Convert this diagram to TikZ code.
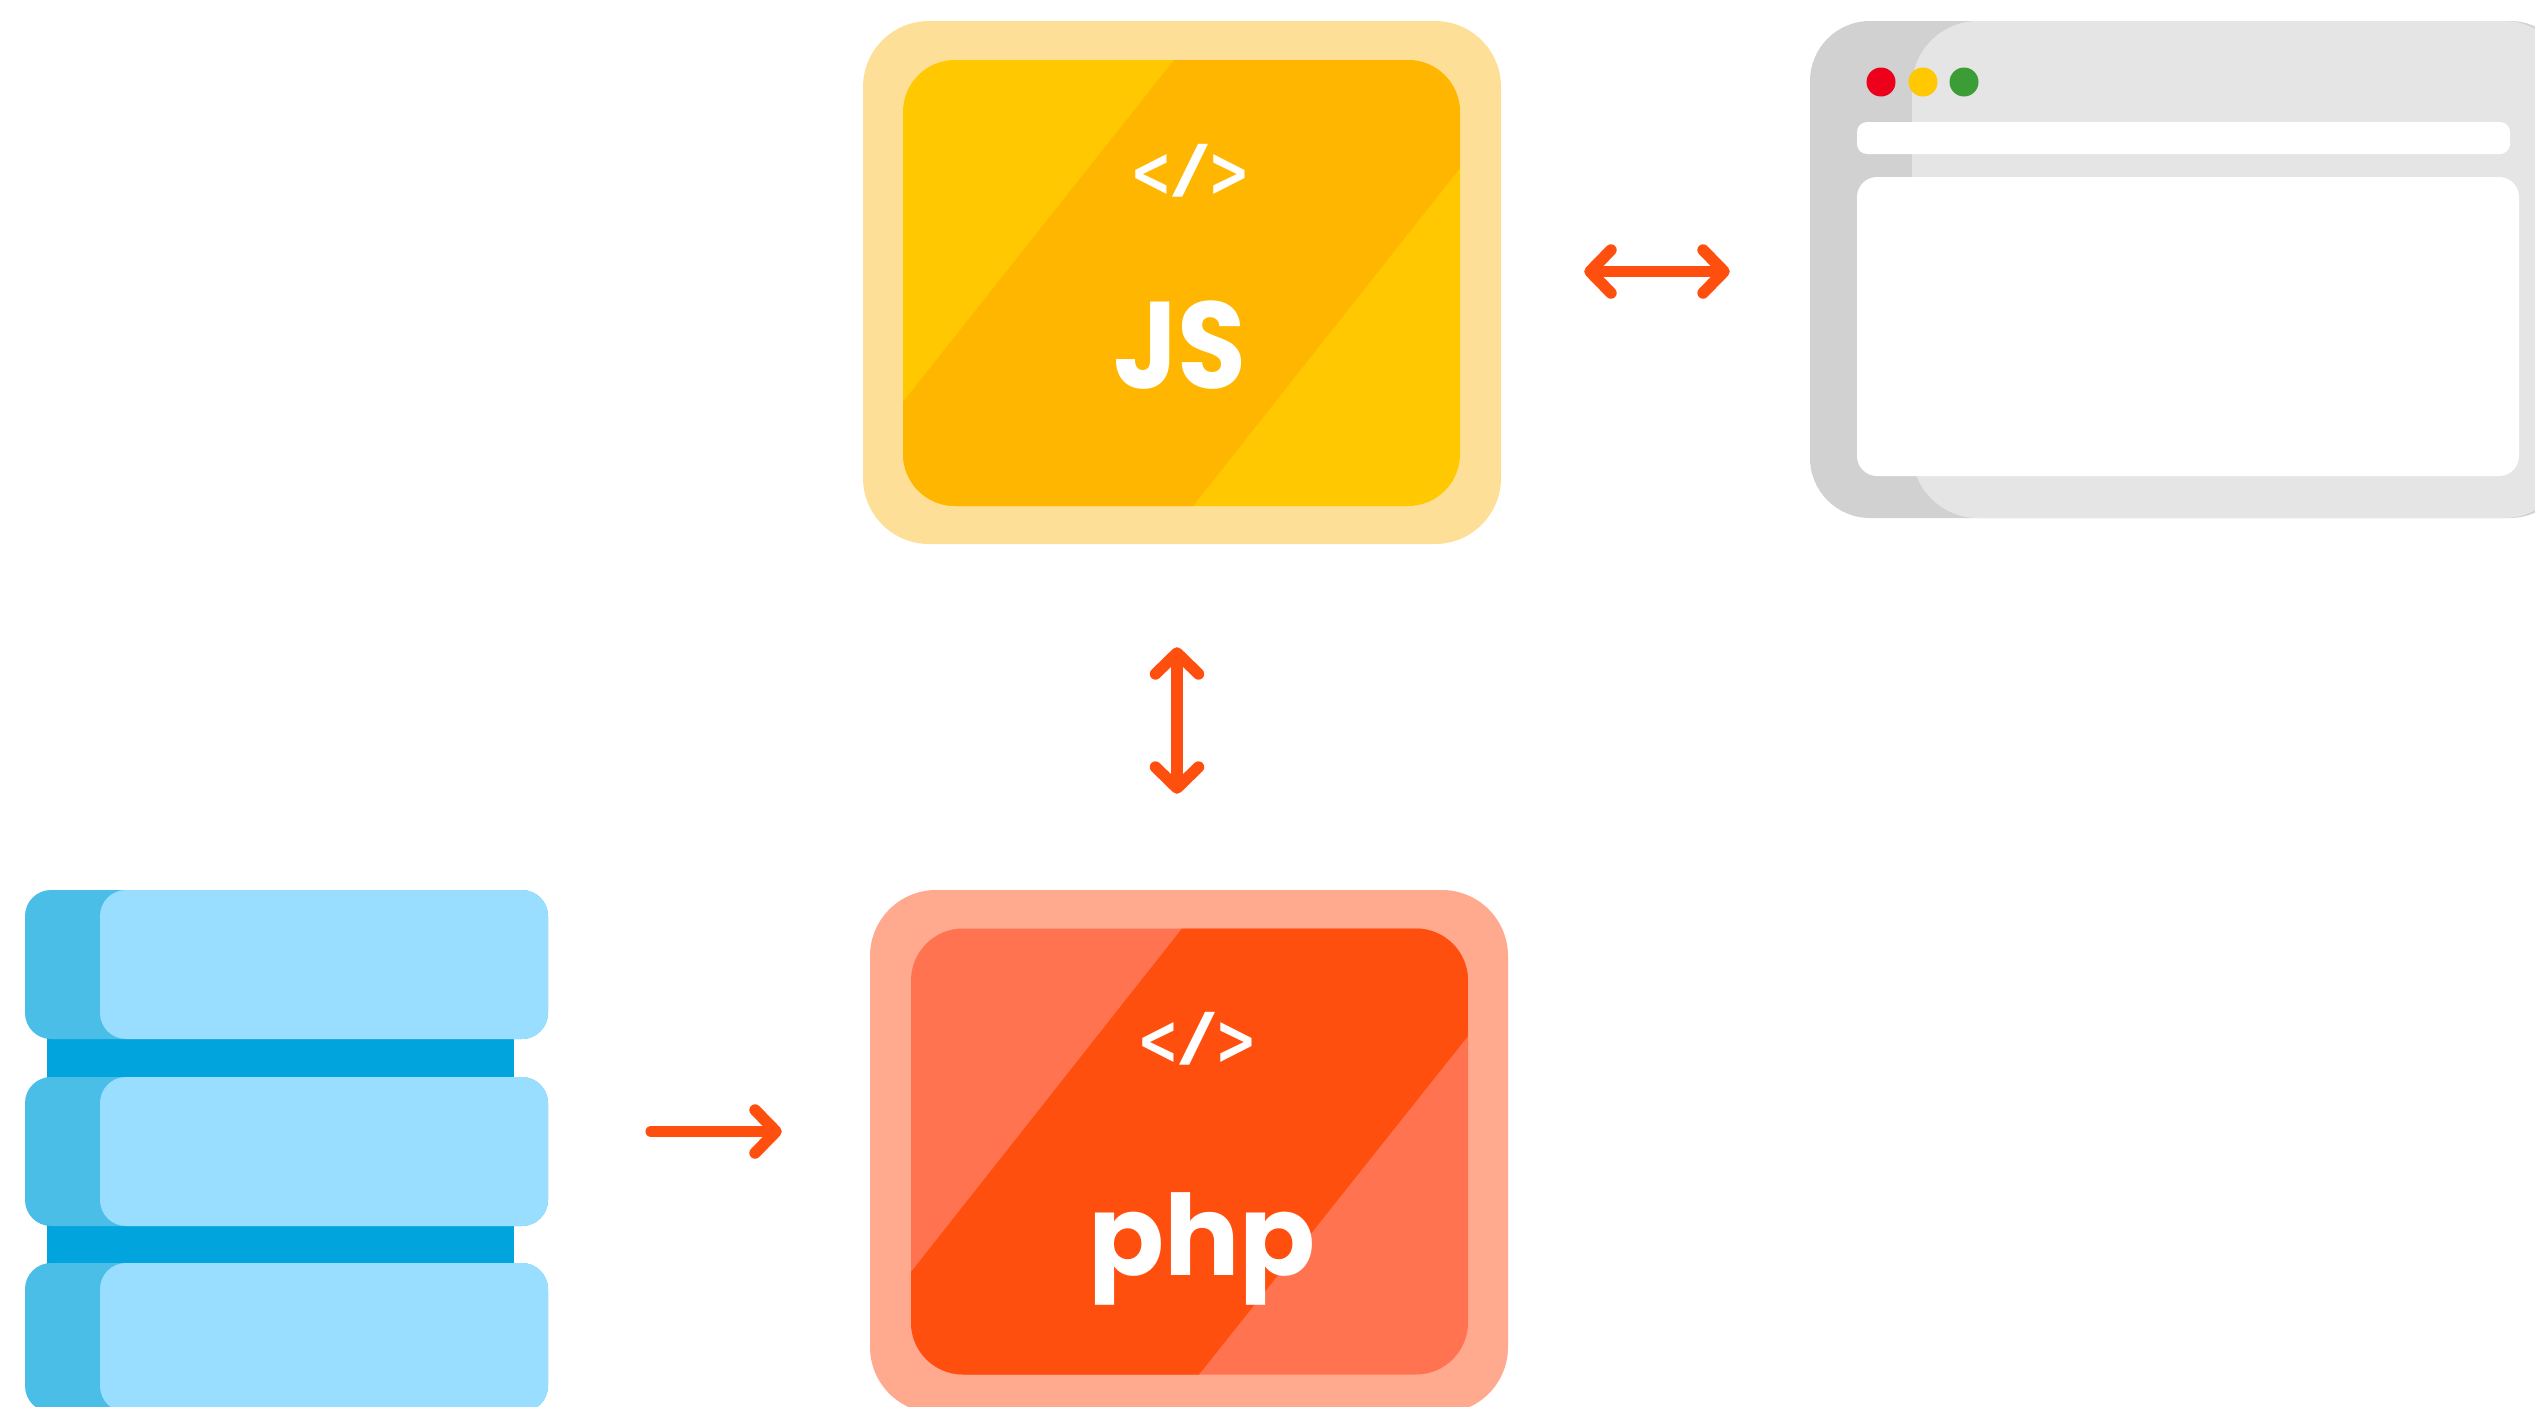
\documentclass[tikz,border=0pt]{standalone}
\usepackage{fontspec}
\usepackage{graphicx}
\usepackage{xcolor}
\usetikzlibrary{arrows.meta}
\newfontfamily\logofont{Poppins}
\newfontfamily\tagfont{DejaVu Sans}
\newfontfamily\slashfont{Liberation Sans}
\definecolor{jspale}{HTML}{FEDF97}
\definecolor{jslight}{HTML}{FFC800}
\definecolor{jsdark}{HTML}{FFB600}
\definecolor{phppale}{HTML}{FFA98F}
\definecolor{phplight}{HTML}{FF7350}
\definecolor{phpdark}{HTML}{FF4F0F}
\definecolor{winback}{HTML}{D1D1D1}
\definecolor{winfront}{HTML}{E5E5E5}
\definecolor{dotred}{HTML}{EC001B}
\definecolor{dotgreen}{HTML}{3C9C35}
\definecolor{dbback}{HTML}{4ABEE7}
\definecolor{dbfront}{HTML}{99DDFF}
\definecolor{dbgap}{HTML}{02A4DD}
\definecolor{linkred}{HTML}{FF4F0F}
\newcommand{\codetag}{\scalebox{0.83}[1.17]{\textbf{<}}{\slashfont\fontsize{72}{72}\selectfont\scalebox{1.8}[1]{/}}\scalebox{0.83}[1.17]{\textbf{>}}}
\tikzset{
  outerbox/.style={rectangle, rounded corners=66pt, inner sep=0pt, minimum width=638pt, minimum height=523pt},
  innerbox/.style={rectangle, rounded corners=52pt, inner sep=0pt, minimum width=557pt, minimum height=446pt},
  plate/.style={rectangle, rounded corners=26pt, inner sep=0pt, minimum height=149pt},
  windot/.style={circle, inner sep=0pt, minimum size=29pt},
  tagtext/.style={text=white, inner sep=0pt, font=\tagfont\fontsize{60}{60}\selectfont},
  logotext/.style={text=white, inner sep=0pt, anchor=base, font=\logofont\bfseries\fontsize{112}{120}\selectfont},
  link/.style={draw=linkred, line width=11.5pt, line cap=round}
}
\begin{document}
\begin{tikzpicture}[x=1pt, y=-1pt, >={Straight Barb[length=21pt, width=43pt, round]}]
  \useasboundingbox (0,0) rectangle (2535,1406);
  \clip (0,0) rectangle (2535,1406);

  % JS box
  \node[outerbox, fill=jspale] (jsbox) at (1182,282.5) {};
  \node[innerbox, fill=jslight] (jsface) at (1181.5,283) {};
  \begin{scope}
    \clip[rounded corners=52pt] (903,60) rectangle (1460,506);
    \fill[jsdark] (1174,60) -- (1460,60) -- (1460,168) -- (1193,506) -- (903,506) -- (903,402) -- cycle;
  \end{scope}
  \node[tagtext] (jstag) at (1190.5,171) {\codetag};
  \node[logotext] (jsname) at (1180,388) {\scalebox{1}[1.1]{JS}};

  % browser window
  \node[rectangle, rounded corners=60pt, inner sep=0pt, minimum width=760pt, minimum height=497pt, fill=winback] (window) at (2190,269.5) {};
  \fill[winfront, rounded corners=66pt] (1912,21) rectangle (2570,518);
  \node[rectangle, rounded corners=10pt, inner sep=0pt, minimum width=653pt, minimum height=32pt, fill=white] (addressbar) at (2183.5,138) {};
  \node[rectangle, rounded corners=20pt, inner sep=0pt, minimum width=662pt, minimum height=299pt, fill=white] (page) at (2188,326.5) {};
  \node[windot, fill=dotred] (reddot) at (1881,82) {};
  \node[windot, fill=jslight] (yellowdot) at (1923,82) {};
  \node[windot, fill=dotgreen] (greendot) at (1964,82) {};

  % php box
  \node[outerbox, fill=phppale] (phpbox) at (1189,1151.5) {};
  \node[innerbox, fill=phplight] (phpface) at (1189.5,1151.5) {};
  \begin{scope}
    \clip[rounded corners=52pt] (911,928.5) rectangle (1468,1374.5);
    \fill[phpdark] (1182,928.5) -- (1468,928.5) -- (1468,1036) -- (1199,1374.5) -- (911,1374.5) -- (911,1272) -- cycle;
  \end{scope}
  \node[tagtext] (phptag) at (1197.5,1039) {\codetag};
  \node[logotext] (phpname) at (1202,1275) {php};

  % database
  \fill[dbgap] (47,1030) rectangle (514,1085);
  \fill[dbgap] (47,1216) rectangle (514,1272);
  \node[plate, minimum width=523pt, fill=dbback] (dbtop) at (286.5,964.5) {};
  \node[plate, minimum width=448pt, fill=dbfront] (dbtopfront) at (324,964.5) {};
  \node[plate, minimum width=523pt, fill=dbback] (dbmid) at (286.5,1151.5) {};
  \node[plate, minimum width=448pt, fill=dbfront] (dbmidfront) at (324,1151.5) {};
  \node[plate, minimum width=523pt, fill=dbback] (dbbot) at (286.5,1337.5) {};
  \node[plate, minimum width=448pt, fill=dbfront] (dbbotfront) at (324,1337.5) {};

  % links
  \draw[link, <->, shorten <=83pt, shorten >=80pt] ([yshift=-2pt]jsbox.east |- window.west) -- ([yshift=-2pt]window.west);
  \draw[link, <->, shorten <=103pt, shorten >=96pt] ([xshift=-5pt]jsbox.south) -- ([xshift=-12pt]phpbox.north);
  \draw[link, ->, shorten <=103pt, shorten >=88pt] ([yshift=20pt]dbmid.east) -- ([yshift=20pt]phpbox.west);
\end{tikzpicture}
\end{document}
